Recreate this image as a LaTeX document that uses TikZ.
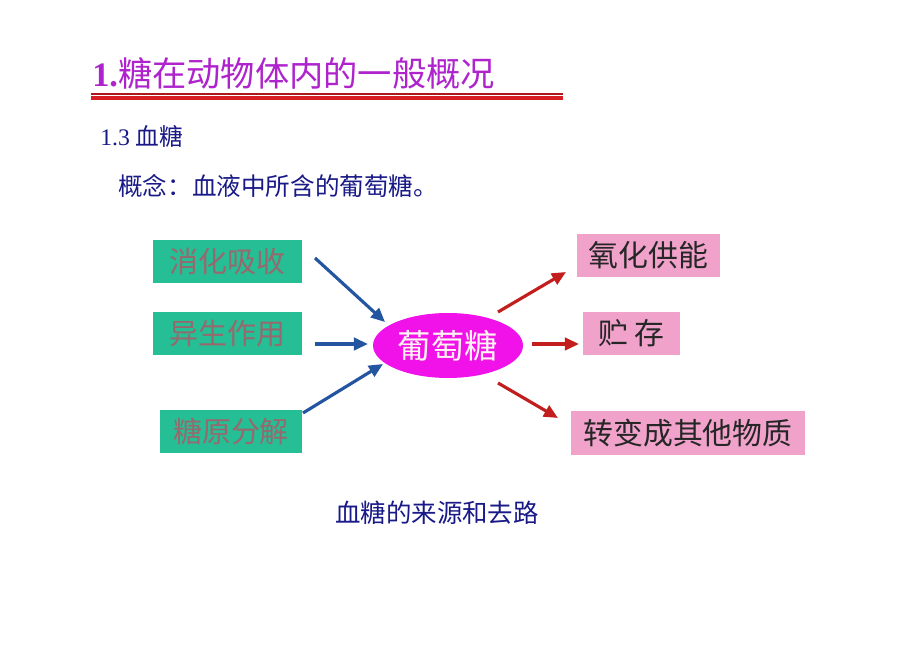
\documentclass[tikz,border=0pt]{standalone}
\usepackage{fontspec}
\setmainfont{Liberation Serif}
\newfontfamily\cjk{Noto Sans CJK SC}
\usetikzlibrary{arrows.meta,shapes.geometric}
\definecolor{titlepurple}{RGB}{175,35,205}
\definecolor{linered}{RGB}{215,30,35}
\definecolor{navy}{RGB}{25,25,135}
\definecolor{boxgreen}{RGB}{38,190,148}
\definecolor{srctext}{RGB}{150,105,110}
\definecolor{boxpink}{RGB}{240,162,202}
\definecolor{glucose}{RGB}{240,18,232}
\definecolor{arrowblue}{RGB}{35,85,160}
\definecolor{arrowred}{RGB}{195,30,30}

\begin{document}
\begin{tikzpicture}[x=0.02cm,y=-0.02cm]%[pixels, y down]
      \tikzset{srcbox/.style={fill=boxgreen, text=srctext, minimum height=0.86cm,
                 font=\cjk\fontsize{16.5}{18}\selectfont},
               usebox/.style={fill=boxpink, text=black!85, minimum height=0.87cm,
                 font=\cjk\fontsize{17}{19}\selectfont},
               inarrow/.style={draw=arrowblue, line width=1.8pt, -{Triangle[length=8pt,width=7pt]}},
               outarrow/.style={draw=arrowred, line width=1.8pt, -{Triangle[length=8pt,width=7pt]}}}
      \useasboundingbox (0,0) rectangle (920,651);

      % heading
      \node[anchor=base west, inner sep=0pt, text=titlepurple, font=\fontsize{19.5}{22}\selectfont]
        (title) at (92,87) {\textbf{1.}\cjk 糖在动物体内的一般概况};
      \draw[linered!80!black, line width=0.6pt] (91,94) -- (563,94);
      \draw[linered, line width=2.2pt] (91,98) -- (563,98);
      \node[anchor=west, inner sep=0pt, text=navy, font=\fontsize{13.5}{16}\selectfont]
        (sub) at (100,136) {1.3 {\cjk 血糖}};
      \node[anchor=west, inner sep=0pt, text=navy, font=\cjk\fontsize{14}{16}\selectfont]
        (concept) at (118,186) {概念：血液中所含的葡萄糖。};

      % sources
      \node[srcbox, minimum width=2.98cm] (digest) at (227.5,261.5) {消化吸收};
      \node[srcbox, minimum width=2.98cm] (gneo) at (227.5,333.5) {异生作用};
      \node[srcbox, minimum width=2.84cm] (glyco) at (231,431.5) {糖原分解};

      \node[ellipse, fill=glucose, text=white!80!pink, minimum width=3cm, minimum height=1.3cm,
            inner sep=0pt, font=\cjk\fontsize{19}{21}\selectfont] (glc) at (448,345.5) {葡萄糖};

      % uses
      \node[usebox, minimum width=2.86cm] (oxid) at (648.5,255.5) {氧化供能};
      \node[usebox, minimum width=1.94cm] (store) at (631.5,333.5) {贮 存};
      \node[usebox, minimum width=4.68cm] (conv) at (688,433) {转变成其他物质};

      \coordinate (a1) at (315,258);  \coordinate (b1) at (385,322);
      \coordinate (a2) at (315,344);  \coordinate (b2) at (368,344);
      \coordinate (a3) at (303,413);  \coordinate (b3) at (383,364);
      \coordinate (c1) at (498,312);  \coordinate (d1) at (566,272);
      \coordinate (c2) at (532,344);  \coordinate (d2) at (579,344);
      \coordinate (c3) at (498,383);  \coordinate (d3) at (558,418);
      \draw[inarrow] (a1) -- (b1);
      \draw[inarrow] (a2) -- (b2);
      \draw[inarrow] (a3) -- (b3);
      \draw[outarrow] (c1) -- (d1);
      \draw[outarrow] (c2) -- (d2);
      \draw[outarrow] (c3) -- (d3);

      \node[text=navy, font=\cjk\fontsize{14.5}{16}\selectfont] (caption) at (437,513) {血糖的来源和去路};
    \end{tikzpicture}
\end{document}
